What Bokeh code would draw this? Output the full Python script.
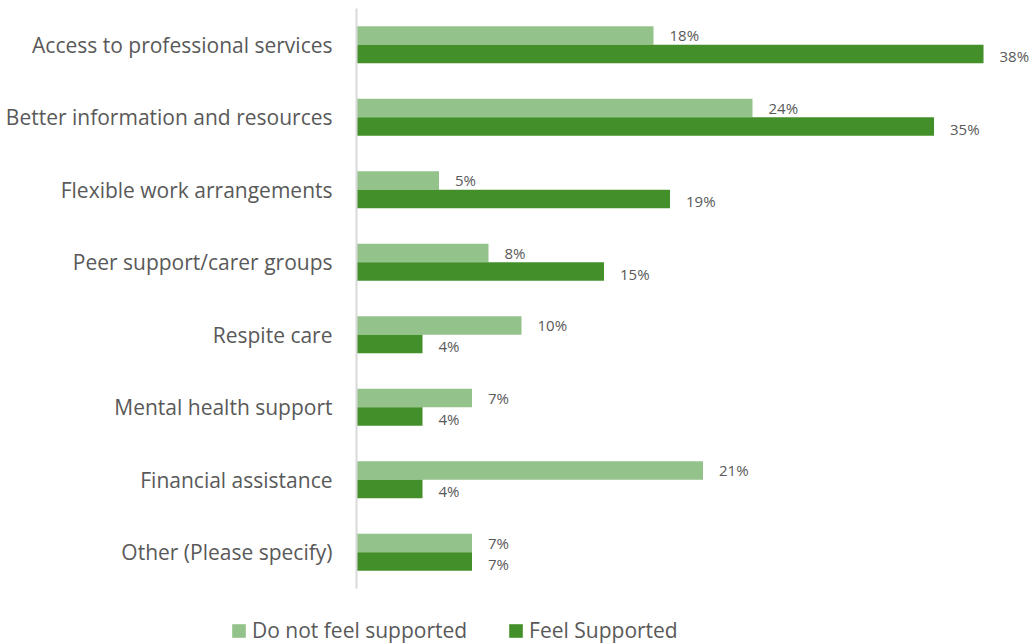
from bokeh.plotting import figure
from bokeh.models import ColumnDataSource, FactorRange, Legend, LegendItem, Range1d
from bokeh.layouts import column, row
from bokeh.transform import dodge
from bokeh.embed import file_html
from bokeh.resources import INLINE

categories = ["Access to professional services", "Better information and resources",
              "Flexible work arrangements", "Peer support/carer groups", "Respite care",
              "Mental health support", "Financial assistance", "Other (Please specify)"]
not_supported = [18, 24, 5, 8, 10, 7, 21, 7]
supported = [38, 35, 19, 15, 4, 4, 4, 7]
series_names = ["Do not feel supported", "Feel Supported"]

src = ColumnDataSource(dict(
    cat=categories,
    ns=not_supported,
    s=supported,
    ns_lbl=[f"{v}%" for v in not_supported],
    s_lbl=[f"{v}%" for v in supported],
))

LIGHT = "#93C28A"
DARK = "#43902A"
TXT = "#595959"
FONT = "Open Sans"

p = figure(width=1035, height=600, output_backend="svg", toolbar_location=None,
           y_range=FactorRange(factors=list(reversed(categories)), range_padding=0),
           x_range=(0, 41.15),
           min_border_left=356, min_border_right=0, min_border_top=8, min_border_bottom=12)
p.outline_line_color = None
p.grid.visible = False
p.xaxis.visible = False

p.hbar(y=dodge("cat", 0.128, range=p.y_range), right="ns", left=0, height=0.255,
       source=src, fill_color=LIGHT, line_color=None)
p.hbar(y=dodge("cat", -0.128, range=p.y_range), right="s", left=0, height=0.255,
       source=src, fill_color=DARK, line_color=None)

p.text(x="ns", y=dodge("cat", 0.128, range=p.y_range), text="ns_lbl", source=src,
       x_offset=16, text_baseline="middle", text_font_size="15px", text_color=TXT,
       text_font={"value": FONT})
p.text(x="s", y=dodge("cat", -0.16, range=p.y_range), text="s_lbl", source=src,
       x_offset=16, text_baseline="middle", text_font_size="15px", text_color=TXT,
       text_font={"value": FONT})

ya = p.yaxis[0]
ya.axis_line_color = "#D9D9D9"
ya.axis_line_width = 2
ya.major_tick_line_color = None
ya.minor_tick_line_color = None
ya.major_label_text_font_size = "21px"
ya.major_label_text_color = TXT
ya.major_label_text_font = FONT
ya.major_label_standoff = 18

# legend strip
lg = figure(width=1035, height=44, output_backend="svg", toolbar_location=None,
            x_range=Range1d(0, 1), y_range=Range1d(0, 1),
            min_border_left=0, min_border_right=0, min_border_top=0, min_border_bottom=0)
lg.outline_line_color = None
lg.grid.visible = False
lg.axis.visible = False
hidden = ColumnDataSource(dict(y=[-10], right=[1]))
d1 = lg.hbar(y="y", right="right", height=0.1, source=hidden, fill_color=LIGHT, line_color=None)
d2 = lg.hbar(y="y", right="right", height=0.1, source=hidden, fill_color=DARK, line_color=None)
legend = Legend(items=[LegendItem(label=series_names[0], renderers=[d1]),
                       LegendItem(label=series_names[1], renderers=[d2])],
                orientation="horizontal", location=(230, 0),
                label_text_font_size="21px", label_text_color=TXT, label_text_font=FONT,
                glyph_width=17, glyph_height=17, label_standoff=5, spacing=40,
                border_line_color=None, background_fill_alpha=0, padding=2, margin=0)
lg.add_layout(legend, "center")

open("out.html", "w").write(file_html(column(p, row(lg), spacing=0), INLINE))
